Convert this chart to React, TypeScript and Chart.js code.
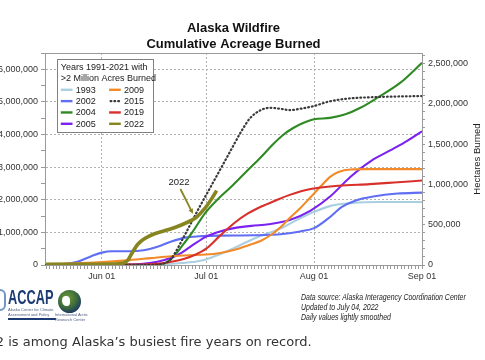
import React, { useEffect, useRef } from 'react';
import { Chart, registerables } from 'chart.js';

Chart.register(...registerables);

// ---------- data: [day of year, million acres burned (cumulative)] ----------
const seriesYears = ['1993', '2002', '2004', '2005', '2009', '2015', '2019', '2022'];
const seriesColors = ['#a9cfe0', '#5f6ef2', '#2f8a24', '#7b22f0', '#f28a2a', '#3a3a3a', '#d8312b', '#86851f'];

const fire1993 = [[136, 0], [160, 0.01], [168, 0.02], [175, 0.06], [180, 0.12], [184, 0.25], [188, 0.42], [192, 0.62], [196, 0.82], [200, 0.98], [204, 1.15], [208, 1.38], [213, 1.63], [218, 1.82], [224, 1.9], [232, 1.93], [244, 1.93]];
const fire2002 = [[136, 0.02], [141, 0.03], [145, 0.1], [149, 0.27], [152, 0.38], [155, 0.42], [160, 0.42], [164, 0.45], [168, 0.56], [172, 0.72], [176, 0.84], [180, 0.88], [186, 0.9], [196, 0.91], [204, 0.95], [209, 1.03], [213, 1.13], [217, 1.42], [221, 1.78], [225, 1.98], [230, 2.1], [237, 2.19], [244, 2.22]];
const fire2004 = [[136, 0], [165, 0.005], [169, 0.03], [171, 0.1], [173, 0.3], [175.7, 0.67], [178, 1.0], [181.7, 1.59], [185, 1.98], [189.8, 2.46], [193.5, 2.86], [197.5, 3.28], [201, 3.68], [204, 3.98], [207, 4.2], [210, 4.36], [213, 4.47], [217.6, 4.51], [222, 4.62], [226.3, 4.82], [231.2, 5.13], [237.8, 5.59], [244, 6.2]];
const fire2005 = [[136, 0], [158, 0.01], [164, 0.04], [168, 0.1], [172, 0.22], [175, 0.38], [178, 0.6], [182, 0.87], [186, 1.03], [190, 1.13], [195, 1.2], [200, 1.25], [206, 1.38], [212, 1.67], [217.6, 2.1], [223.4, 2.7], [229.2, 3.18], [235, 3.52], [239, 3.76], [244, 4.1]];
const fire2009 = [[136, 0.03], [145, 0.05], [152, 0.09], [160, 0.15], [166, 0.21], [172, 0.27], [177, 0.3], [182, 0.32], [186, 0.37], [190, 0.46], [194, 0.6], [198, 0.76], [201, 0.95], [203.5, 1.17], [206, 1.44], [209, 1.74], [212, 2.08], [215, 2.42], [217.6, 2.7], [220, 2.85], [223.4, 2.93], [228, 2.94], [244, 2.94]];
const fire2015 = [[136, 0], [165, 0.005], [169, 0.03], [171, 0.1], [172.4, 0.26], [176, 0.95], [180, 1.76], [183, 2.34], [186, 2.92], [189.4, 3.58], [192, 4.08], [194.6, 4.5], [197.5, 4.74], [200.4, 4.82], [203.3, 4.79], [206.1, 4.75], [209, 4.79], [212.8, 4.87], [217.6, 5.02], [222.5, 5.1], [231.2, 5.15], [244, 5.18]];
const fire2019 = [[136, 0], [160, 0.01], [168, 0.04], [172, 0.1], [176, 0.2], [179, 0.32], [182, 0.5], [186, 0.9], [190, 1.28], [194, 1.58], [198, 1.8], [202, 1.98], [206, 2.15], [212, 2.33], [220, 2.43], [229, 2.48], [236, 2.53], [244, 2.59]];
const fire2022 = [[136, 0.02], [150, 0.02], [155, 0.03], [158, 0.05], [159.5, 0.15], [161, 0.42], [162.5, 0.65], [164.5, 0.82], [167, 0.95], [170, 1.05], [173, 1.15], [176, 1.28], [179, 1.45], [181.5, 1.72], [183.5, 2.02], [185, 2.28]];

const monthTickDays = [152, 182, 213, 244];
const monthTickLabels = ['Jun 01', 'Jul 01', 'Aug 01', 'Sep 01'];
const xMinDay = 135.7;
const xMaxDay = 244;
const yMaxMillionAcres = 6.5;
const ACRES_PER_HECTARE = 2.471;

const titleLines = ['Alaska Wildfire', 'Cumulative Acreage Burned'];
const legendTitleLines = ['Years 1991-2021 with', '>2 Million Acres Burned'];
const rightAxisTitle = 'Hectares Burned';

// annotation "2022" with arrow, in data units [day, million acres]
const annotationText = '2022';
const annotationTextAt = [174.2, 2.52];
const annotationArrowFrom = [174.6, 2.33];
const annotationArrowTo = [178.2, 1.57];

const FONT = '"Liberation Sans", Arial, sans-serif';
const DOTS = [0.8, 3];

const fmt = (v: number) => Math.round(v).toLocaleString('en-US');

export default function App() {
  const ref = useRef<HTMLCanvasElement>(null);

  useEffect(() => {
    const seriesData = [fire1993, fire2002, fire2004, fire2005, fire2009, fire2015, fire2019, fire2022];
    const datasets = seriesYears.map((yr, i) => ({
      label: yr,
      data: seriesData[i].map(([x, y]) => ({ x, y })),
      borderColor: seriesColors[i],
      backgroundColor: seriesColors[i],
      borderWidth: yr === '2022' ? 3.6 : yr === '2015' ? 2.2 : 2.1,
      borderDash: yr === '2015' ? DOTS : [],
      borderCapStyle: yr === '2015' ? 'round' : 'butt',
      pointRadius: 0,
      cubicInterpolationMode: 'monotone',
      fill: false,
      order: yr === '2022' ? 0 : yr === '2015' ? 1 : 10 - i,
      yAxisID: 'y',
    }));

    const framePlugin = {
      id: 'frame',
      afterDraw(chart: any) {
        const { ctx, chartArea: ca } = chart;
        ctx.save();
        ctx.strokeStyle = '#9a9a9a';
        ctx.lineWidth = 1;
        ctx.beginPath();
        ctx.moveTo(ca.left, Math.round(ca.top) + 0.5);
        ctx.lineTo(ca.right, Math.round(ca.top) + 0.5);
        ctx.stroke();
        // right axis title, reading bottom to top
        ctx.translate(chart.width - 8, (ca.top + ca.bottom) / 2);
        ctx.rotate(-Math.PI / 2);
        ctx.font = `9.5px ${FONT}`;
        ctx.fillStyle = '#222';
        ctx.textAlign = 'center';
        ctx.textBaseline = 'middle';
        ctx.fillText(rightAxisTitle, 0, 0);
        ctx.restore();
      },
    };

    const legendPlugin = {
      id: 'boxLegend',
      afterDraw(chart: any) {
        const { ctx, chartArea: ca } = chart;
        const x0 = Math.round(ca.left + 11.5) + 0.5;
        const y0 = Math.round(ca.top + 5.5) + 0.5;
        const w = 96;
        const h = 73;
        ctx.save();
        ctx.fillStyle = '#fff';
        ctx.fillRect(x0, y0, w, h);
        ctx.strokeStyle = '#808080';
        ctx.lineWidth = 1;
        ctx.strokeRect(x0, y0, w, h);
        ctx.font = `9px ${FONT}`;
        ctx.fillStyle = '#1a1a1a';
        ctx.textBaseline = 'middle';
        ctx.textAlign = 'left';
        ctx.fillText(legendTitleLines[0], x0 + 3.3, y0 + 7.7);
        ctx.fillText(legendTitleLines[1], x0 + 3.3, y0 + 19.3);
        chart.data.datasets.forEach((ds: any, i: number) => {
          const col = Math.floor(i / 4);
          const row = i % 4;
          const sx = x0 + 3.3 + col * 48.3;
          const sy = y0 + 30.3 + row * 11.33;
          const dotted = ds.borderDash && ds.borderDash.length;
          ctx.strokeStyle = ds.borderColor;
          ctx.lineWidth = dotted ? 2.2 : 2.4;
          ctx.setLineDash(dotted ? DOTS : []);
          ctx.lineCap = dotted ? 'round' : 'butt';
          ctx.beginPath();
          ctx.moveTo(sx + (dotted ? 1.5 : 0), sy);
          ctx.lineTo(sx + 11.7, sy);
          ctx.stroke();
          ctx.setLineDash([]);
          ctx.fillText(ds.label, sx + 15, sy + 0.5);
        });
        ctx.restore();
      },
    };

    const annotationPlugin = {
      id: 'arrowNote',
      afterDatasetsDraw(chart: any) {
        const { ctx, scales } = chart;
        const px = (p: number[]) => [scales.x.getPixelForValue(p[0]), scales.y.getPixelForValue(p[1])];
        const [tx, ty] = px(annotationTextAt);
        const [ax, ay] = px(annotationArrowFrom);
        const [bx, by] = px(annotationArrowTo);
        ctx.save();
        ctx.font = `9.5px ${FONT}`;
        ctx.fillStyle = '#222';
        ctx.textAlign = 'center';
        ctx.textBaseline = 'middle';
        ctx.fillText(annotationText, tx, ty);
        const col = seriesColors[seriesYears.indexOf('2022')];
        ctx.strokeStyle = col;
        ctx.fillStyle = col;
        ctx.lineWidth = 1.8;
        const ang = Math.atan2(by - ay, bx - ax);
        const hl = 5.5;
        ctx.beginPath();
        ctx.moveTo(ax, ay);
        ctx.lineTo(bx - Math.cos(ang) * hl * 0.8, by - Math.sin(ang) * hl * 0.8);
        ctx.stroke();
        ctx.beginPath();
        ctx.moveTo(bx, by);
        ctx.lineTo(bx - hl * Math.cos(ang - 0.45), by - hl * Math.sin(ang - 0.45));
        ctx.lineTo(bx - hl * Math.cos(ang + 0.45), by - hl * Math.sin(ang + 0.45));
        ctx.closePath();
        ctx.fill();
        ctx.restore();
      },
    };

    const tickFont = { family: FONT, size: 9 };

    const chart = new Chart(ref.current as HTMLCanvasElement, {
      type: 'line',
      data: { datasets: datasets as any },
      options: {
        responsive: false,
        animation: false,
        events: [],
        layout: { padding: 0 },
        plugins: {
          legend: { display: false },
          tooltip: { enabled: false },
          title: {
            display: true,
            text: titleLines,
            fullSize: false,
            color: '#111',
            font: { family: FONT, size: 13, weight: 'bold', lineHeight: 1.25 },
            padding: { top: 20.5, bottom: 0 },
          },
        },
        scales: {
          x: {
            type: 'linear',
            min: xMinDay,
            max: xMaxDay,
            afterBuildTicks: (s: any) => {
              const t = [];
              for (let d = 136; d <= xMaxDay; d++) t.push({ value: d });
              s.ticks = t;
            },
            afterFit: (s: any) => { s.height = 25; },
            ticks: {
              autoSkip: false,
              maxRotation: 0,
              padding: 2,
              color: '#333',
              font: tickFont,
              callback: (v: any) => {
                const k = monthTickDays.indexOf(Number(v));
                return k >= 0 ? monthTickLabels[k] : '';
              },
            },
            grid: {
              color: (c: any) => c.tick && monthTickDays.indexOf(c.tick.value) >= 0 && c.tick.value !== xMaxDay ? '#b0b0b0' : 'rgba(0,0,0,0)',
              tickColor: '#9a9a9a',
              tickLength: 4,
              lineWidth: 1,
            },
            border: { display: true, color: '#9a9a9a', dash: [2, 2] },
          },
          y: {
            type: 'linear',
            position: 'left',
            min: 0,
            max: yMaxMillionAcres,
            afterBuildTicks: (s: any) => {
              const t = [];
              for (let v = 0; v <= yMaxMillionAcres + 1e-9; v += 0.5) t.push({ value: Math.round(v * 10) / 10 });
              s.ticks = t;
            },
            afterFit: (s: any) => { s.width = 105; },
            ticks: {
              autoSkip: false,
              padding: 3,
              color: '#333',
              font: tickFont,
              callback: (v: any) => (Number.isInteger(Number(v)) ? fmt(Number(v) * 1e6) : ''),
            },
            grid: {
              color: (c: any) => c.tick && Number.isInteger(c.tick.value) && c.tick.value > 0 ? '#b0b0b0' : 'rgba(0,0,0,0)',
              tickColor: '#9a9a9a',
              tickLength: 4,
            },
            border: { display: true, color: '#9a9a9a', dash: [2, 2] },
          },
          y2: {
            type: 'linear',
            position: 'right',
            min: 0,
            max: yMaxMillionAcres / ACRES_PER_HECTARE,
            afterBuildTicks: (s: any) => {
              const t = [];
              for (let v = 0; v <= yMaxMillionAcres / ACRES_PER_HECTARE; v += 0.1) t.push({ value: Math.round(v * 10) / 10 });
              s.ticks = t;
            },
            afterFit: (s: any) => { s.width = 63; },
            ticks: {
              autoSkip: false,
              padding: 3,
              color: '#333',
              font: tickFont,
              callback: (v: any) => {
                const n = Number(v);
                return Math.abs(n * 2 - Math.round(n * 2)) < 1e-6 ? fmt(n * 1e6) : '';
              },
            },
            grid: { drawOnChartArea: false, tickColor: '#9a9a9a', tickLength: 3 },
            border: { display: true, color: '#9a9a9a' },
          },
        },
      } as any,
      plugins: [annotationPlugin, framePlugin, legendPlugin],
    });
    return () => chart.destroy();
  }, []);

  const tiny: React.CSSProperties = { fontFamily: FONT, fontSize: 4, lineHeight: '4.6px', color: '#4a5d80', whiteSpace: 'nowrap' };

  return (
    <div style={{ position: 'fixed', left: 0, top: 0, width: 485, height: 360, overflow: 'hidden', background: '#fff' }}>
      <canvas ref={ref} width={545} height={290} style={{ position: 'absolute', left: -60, top: 0, width: 545, height: 290 }} />

      {/* logos */}
      <div style={{ position: 'absolute', left: -6, top: 289, width: 12, height: 22, borderRadius: 6, border: '2px solid #6f95c9', boxSizing: 'border-box' }} />
      <div style={{ position: 'absolute', left: 8, top: 286, fontFamily: FONT, fontWeight: 'bold', fontSize: 20, lineHeight: '22px', color: '#1d3b73', transform: 'scaleX(0.64)', transformOrigin: 'left top' }}>ACCAP</div>
      <div style={{ position: 'absolute', left: 8, top: 308, ...tiny }}>
        <div>Alaska Center for Climate</div>
        <div>Assessment and Policy</div>
      </div>
      <div style={{ position: 'absolute', left: 8, top: 318, width: 48, height: 2, background: '#1d3b73' }} />
      <div style={{ position: 'absolute', left: 58, top: 290, width: 23, height: 23, borderRadius: '50%', background: 'radial-gradient(circle at 40% 35%, #6f9a3a 0%, #3f6e3a 45%, #1d3b63 75%)' }} />
      <div style={{ position: 'absolute', left: 62, top: 296, width: 8, height: 10, borderRadius: '50% 50% 40% 60%', background: '#fff' }} />
      <div style={{ position: 'absolute', left: 55, top: 313, ...tiny }}>
        <div>International Arctic</div>
        <div>Research Center</div>
      </div>

      {/* footnote */}
      <div style={{ position: 'absolute', left: 301, top: 291.5, fontFamily: FONT, fontStyle: 'italic', fontSize: 8.5, lineHeight: '10px', color: '#222', whiteSpace: 'nowrap', transform: 'scaleX(0.82)', transformOrigin: 'left top' }}>
        <div>Data source: Alaska Interagency Coordination Center</div>
        <div>Updated to July 04, 2022</div>
        <div>Daily values lightly smoothed</div>
      </div>

      {/* caption */}
      <div style={{ position: 'absolute', left: -29, top: 333, fontFamily: '"DejaVu Sans", sans-serif', fontSize: 13, lineHeight: '17px', color: '#333', whiteSpace: 'nowrap' }}>
        2022 is among Alaska’s busiest fire years on record.
      </div>
    </div>
  );
}
